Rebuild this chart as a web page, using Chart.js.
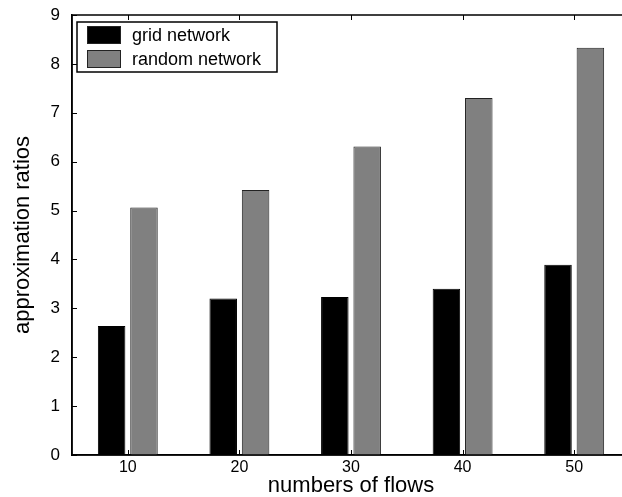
<!DOCTYPE html>
<html>
<head>
<meta charset="utf-8">
<script src="https://cdn.jsdelivr.net/npm/chart.js@4/dist/chart.umd.min.js"></script>
<style>
  html, body { margin: 0; padding: 0; background: #fff; overflow: hidden; }
  #wrap { width: 640px; height: 497px; }
</style>
</head>
<body>
<div id="wrap"><canvas id="chart" width="640" height="497"></canvas></div>
<script>
const flows = ['10', '20', '30', '40', '50'];
const gridNetwork = [2.64, 3.20, 3.23, 3.40, 3.89];
const randomNetwork = [5.06, 5.42, 6.31, 7.30, 8.33];
const yTicks = [0, 1, 2, 3, 4, 5, 6, 7, 8, 9];

const FONT = '"Liberation Sans", Arial, Helvetica, sans-serif';

// box round the plot, inward tick marks and the legend in the upper left
const frame = {
  id: 'frame',
  afterDraw(chart) {
    const { ctx, chartArea: a, scales } = chart;
    ctx.save();
    ctx.strokeStyle = '#000';
    ctx.lineWidth = 1.5;
    ctx.strokeRect(a.left, a.top, a.right - a.left, a.bottom - a.top);

    ctx.lineWidth = 1;
    ctx.beginPath();
    yTicks.forEach(v => {
      const y = Math.round(scales.y.getPixelForValue(v)) + 0.5;
      ctx.moveTo(a.left, y); ctx.lineTo(a.left + 5, y);
    });
    flows.forEach((f, i) => {
      const x = Math.round(scales.x.getPixelForValue(i)) + 0.5;
      ctx.moveTo(x, a.bottom); ctx.lineTo(x, a.bottom - 5);
      ctx.moveTo(x, a.top); ctx.lineTo(x, a.top + 5);
    });
    ctx.stroke();

    // legend
    const lx = a.left + 5, ly = a.top + 7, lw = 200, lh = 50;
    ctx.fillStyle = '#fff';
    ctx.fillRect(lx, ly, lw, lh);
    ctx.lineWidth = 1.5;
    ctx.strokeRect(lx, ly, lw, lh);
    ctx.font = '18px ' + FONT;
    ctx.textBaseline = 'middle';
    chart.data.datasets.forEach((ds, i) => {
      const sy = ly + 4 + i * 24;
      ctx.fillStyle = ds.backgroundColor;
      ctx.fillRect(lx + 10, sy, 34, 18);
      ctx.strokeStyle = '#222';
      ctx.lineWidth = 1;
      ctx.strokeRect(lx + 10.5, sy + 0.5, 33, 17);
      ctx.fillStyle = '#000';
      ctx.fillText(ds.label, lx + 55, sy + 10);
    });
    ctx.restore();
  }
};

new Chart(document.getElementById('chart'), {
  type: 'bar',
  data: {
    labels: flows,
    datasets: [
      {
        label: 'grid network',
        data: gridNetwork,
        backgroundColor: '#000000',
        borderColor: '#000000',
        borderWidth: 1
      },
      {
        label: 'random network',
        data: randomNetwork,
        backgroundColor: '#808080',
        borderColor: '#222222',
        borderWidth: 1
      }
    ]
  },
  options: {
    responsive: false,
    animation: false,
    layout: { padding: { top: 15, right: 10, left: 0, bottom: 0 } },
    datasets: {
      bar: { categoryPercentage: 0.58, barPercentage: 0.85 }
    },
    plugins: {
      legend: { display: false },
      tooltip: { enabled: false }
    },
    scales: {
      x: {
        grid: { display: false, drawTicks: false },
        border: { display: true, color: '#000', width: 1.5 },
        ticks: { color: '#000', font: { family: FONT, size: 16 }, padding: 3 },
        title: {
          display: true,
          text: 'numbers of flows',
          color: '#000',
          font: { family: FONT, size: 22, lineHeight: 1 },
          padding: { top: 0, bottom: 0 }
        },
        afterFit: s => { s.height = 42; }
      },
      y: {
        min: 0,
        max: 9,
        grid: { display: false, drawTicks: false },
        border: { display: true, color: '#000', width: 1.5 },
        ticks: { stepSize: 1, color: '#000', font: { family: FONT, size: 17 }, padding: 12 },
        title: {
          display: true,
          text: 'approximation ratios',
          color: '#000',
          font: { family: FONT, size: 22 },
          padding: { top: 10, bottom: 0 }
        },
        afterFit: s => {
          s.width = 72;
          s.paddingTop = 0;
          s.paddingBottom = 0;
        }
      }
    }
  },
  plugins: [frame]
});
</script>
</body>
</html>
